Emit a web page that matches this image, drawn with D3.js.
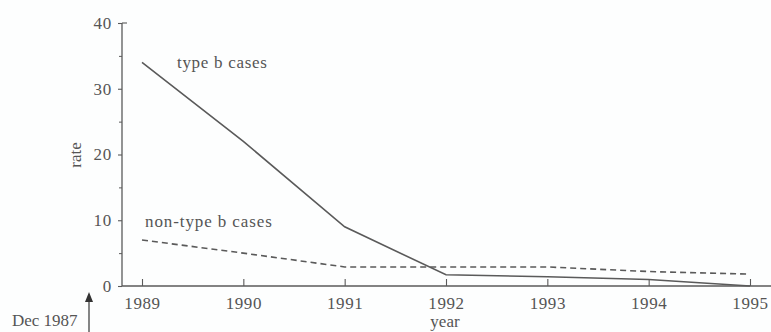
<!DOCTYPE html>
<html>
<head>
<meta charset="utf-8">
<script src="https://cdn.jsdelivr.net/npm/d3@7"></script>
<style>
  html, body { margin: 0; padding: 0; background: #fdfefe; }
  svg { display: block; }
</style>
</head>
<body>
<svg id="chart" width="771" height="332"></svg>
<script>
// Years on the horizontal axis
const years = [1989, 1990, 1991, 1992, 1993, 1994, 1995];
// Rates per year
const typeB = [34, 22, 9, 1.7, 1.4, 1.0, 0];
const nonTypeB = [7, 5, 2.9, 2.9, 2.9, 2.2, 1.8];
// Axis ticks
const yMajorTicks = [0, 10, 20, 30, 40];
const yMinorTicks = [5, 15, 25, 35];

const FONT = "'Liberation Serif', 'Times New Roman', Times, 'DejaVu Serif', serif";
const TEXT = "#555";
const ink = "#5a5a5a";

const svg = d3.select("#chart")
  .attr("font-family", FONT);

const x = d3.scaleLinear().domain([1989, 1995]).range([142, 750]);
const y = d3.scaleLinear().domain([0, 40]).range([286, 23]);
const axisLeft = 122;

// x axis: baseline runs past the last year, ticks point up into the plot
svg.append("line")
  .attr("x1", axisLeft).attr("x2", 771)
  .attr("y1", y(0)).attr("y2", y(0))
  .attr("stroke", ink).attr("stroke-width", 1.3);

const xAxis = d3.axisBottom(x).tickValues(years).tickFormat(d3.format("d"))
  .tickSizeInner(-7).tickSizeOuter(0).tickPadding(11);
const gx = svg.append("g").attr("transform", `translate(0,${y(0)})`).call(xAxis)
  .attr("font-family", FONT).attr("font-size", 17);
gx.select(".domain").remove();
gx.selectAll(".tick line").attr("stroke", ink).attr("stroke-width", 1.1);
gx.selectAll(".tick text").attr("fill", TEXT).attr("letter-spacing", 0.6);

// y axis with small cap at the top
svg.append("line")
  .attr("x1", axisLeft).attr("x2", axisLeft)
  .attr("y1", y(0)).attr("y2", y(40))
  .attr("stroke", ink).attr("stroke-width", 1.3);
svg.append("line")
  .attr("x1", axisLeft).attr("x2", axisLeft + 5)
  .attr("y1", y(40)).attr("y2", y(40))
  .attr("stroke", ink).attr("stroke-width", 1.1);

const yAxis = d3.axisLeft(y).tickValues(yMajorTicks)
  .tickSizeInner(4).tickSizeOuter(0).tickPadding(6);
const gy = svg.append("g").attr("transform", `translate(${axisLeft},0)`).call(yAxis)
  .attr("font-family", FONT).attr("font-size", 17);
gy.select(".domain").remove();
gy.selectAll(".tick line").attr("stroke", ink).attr("stroke-width", 1.1);
gy.selectAll(".tick text").attr("fill", TEXT).attr("letter-spacing", 0.8);

const yMinor = d3.axisLeft(y).tickValues(yMinorTicks).tickSize(3).tickFormat("");
const gym = svg.append("g").attr("transform", `translate(${axisLeft},0)`).call(yMinor);
gym.select(".domain").remove();
gym.selectAll(".tick line").attr("stroke", ink).attr("stroke-width", 1);

// series
const line = d3.line().x(d => x(d[0])).y(d => y(d[1]));

svg.append("path")
  .datum(d3.zip(years, typeB))
  .attr("d", line)
  .attr("fill", "none").attr("stroke", ink).attr("stroke-width", 1.6);

svg.append("path")
  .datum(d3.zip(years, nonTypeB))
  .attr("d", line)
  .attr("fill", "none").attr("stroke", ink).attr("stroke-width", 1.6)
  .attr("stroke-dasharray", "6,4");

function label(xp, yp, str, opts = {}) {
  return svg.append("text")
    .attr("x", xp).attr("y", yp)
    .attr("font-family", FONT).attr("font-size", opts.size || 17)
    .attr("fill", TEXT)
    .attr("letter-spacing", opts.spacing || 0)
    .attr("text-anchor", opts.anchor || "start")
    .text(str);
}

// series labels
label(177, 68, "type b cases", { spacing: 0.7 });
label(145, 227, "non-type b cases", { spacing: 0.9 });

// axis titles
svg.append("text")
  .attr("transform", `translate(81,155) rotate(-90)`)
  .attr("font-family", FONT).attr("font-size", 17).attr("fill", TEXT)
  .attr("text-anchor", "middle").text("rate");
label(445, 327, "year", { anchor: "middle" });

// start-of-vaccination marker
label(12, 326, "Dec 1987");
svg.append("line")
  .attr("x1", 89).attr("x2", 89).attr("y1", 300).attr("y2", 332)
  .attr("stroke", "#444").attr("stroke-width", 1.3);
svg.append("path")
  .attr("d", "M89,292 L85,302 L93,302 Z")
  .attr("fill", "#333");
</script>
</body>
</html>
